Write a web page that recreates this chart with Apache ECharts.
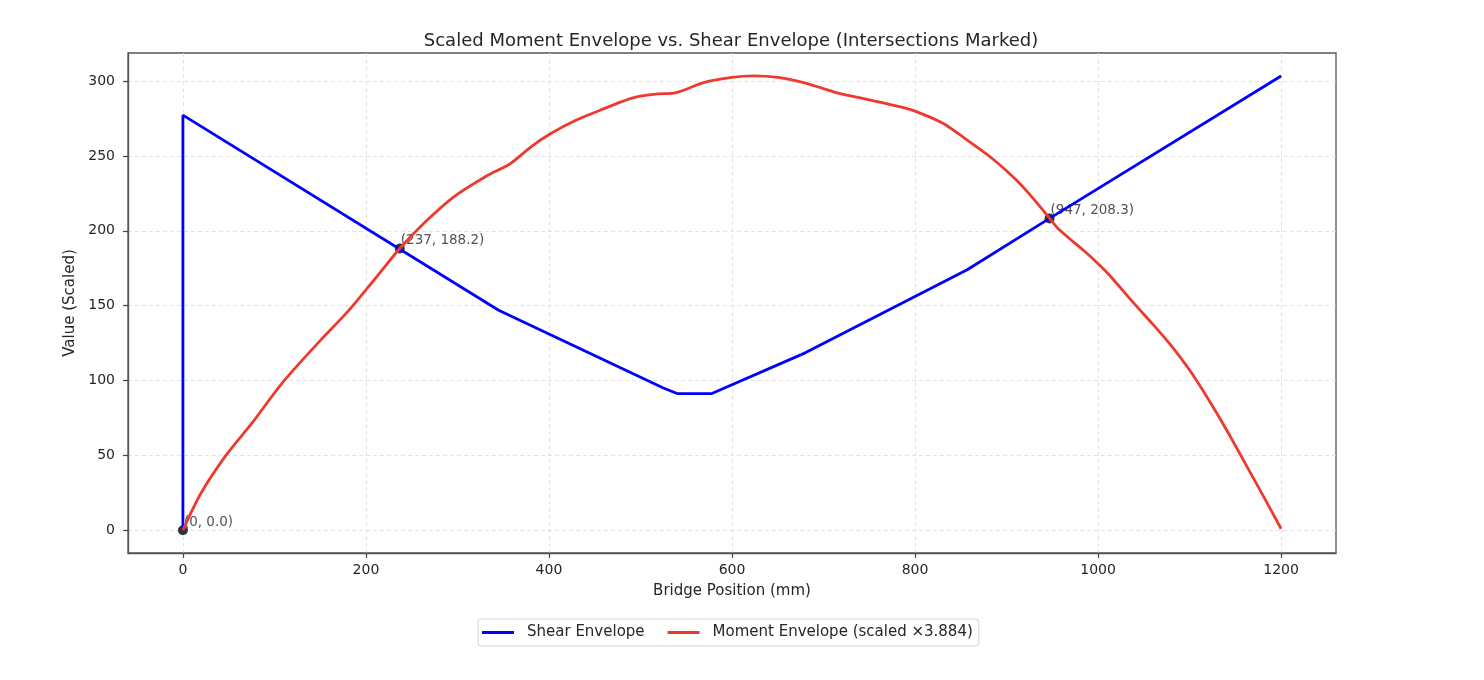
<!DOCTYPE html>
<html>
<head>
<meta charset="utf-8">
<title>Scaled Moment Envelope vs. Shear Envelope</title>
<script src="https://cdn.jsdelivr.net/npm/echarts@6/dist/echarts.min.js"></script>
<style>
    html, body { margin: 0; padding: 0; background: #fff; }
    #chart { width: 1484px; height: 680px; }
</style>
</head>
<body>
<div id="chart"></div>
<script>
// shear envelope
const shearX = [0, 0, 345, 525, 540, 578, 680, 857, 947, 1200];
const shearY = [0, 277.3, 147, 95, 91.3, 91.3, 118.5, 174, 208.3, 303.4];

// moment envelope (already scaled x3.884)
const momentX = [0, 20, 47, 76, 108, 149, 180, 210, 237, 265, 296, 330, 358, 380, 402, 430, 456, 478, 496, 520,
    538, 569, 600, 624, 650, 675, 700, 717, 750, 784, 802, 830, 857, 885, 911, 930, 947, 958, 985, 1000, 1013,
    1040, 1060, 1079, 1100, 1120, 1140, 1160, 1180, 1200];
const momentY = [0, 25, 50, 72, 98, 126, 146, 168, 188.2, 206, 222.7, 236, 245, 256, 265, 274, 280.6, 286, 289.5, 291.5,
    292.2, 299, 302.5, 303.5, 302.5, 299.5, 295, 291.8, 287.5, 282.8, 279.5, 272, 260.6, 248, 233.8, 221, 208.3, 200.5, 186.5, 178, 170,
    151, 137.5, 124, 107, 88, 67.5, 45.5, 23.5, 1];

// intersection points
const crossX = [0, 237, 947];
const crossY = [0.0, 188.2, 208.3];

// tick labels
const xTicks = [0, 200, 400, 600, 800, 1000, 1200];
const yTicks = [0, 50, 100, 150, 200, 250, 300];

const FONT = 'DejaVu Sans';
const TXT = '#262626';

function pairs(xs, ys) {
    return xs.map((x, i) => [x, ys[i]]);
}

const chart = echarts.init(document.getElementById('chart'));

const option = {
    animation: false,
    backgroundColor: '#ffffff',
    title: {
        text: 'Scaled Moment Envelope vs. Shear Envelope (Intersections Marked)',
        left: 726,
        textAlign: 'center',
        top: 27,
        textStyle: { fontFamily: FONT, fontSize: 18, fontWeight: 'normal', color: TXT }
    },
    legend: {
        left: 478,
        top: 619,
        orient: 'horizontal',
        icon: 'rect',
        itemWidth: 32,
        itemHeight: 3,
        itemGap: 23,
        padding: [6, 6, 6, 4],
        borderColor: '#d4d4d4',
        borderWidth: 1,
        borderRadius: 3,
        textStyle: { fontFamily: FONT, fontSize: 15, color: TXT, padding: [0, 0, 0, 8] },
        data: ['Shear Envelope', 'Moment Envelope (scaled \u00d73.884)']
    },
    grid: {
        left: 128,
        right: 148,
        top: 53,
        bottom: 127,
        show: true,
        borderColor: '#555',
        borderWidth: 1.3,
        backgroundColor: 'transparent'
    },
    xAxis: {
        type: 'value',
        min: -60,
        max: 1260,
        name: 'Bridge Position (mm)',
        nameLocation: 'middle',
        nameGap: 31,
        nameTextStyle: { fontFamily: FONT, fontSize: 15, color: TXT },
        axisLine: { show: true, onZero: false, lineStyle: { color: '#555', width: 1.3 } },
        axisTick: { show: true, inside: false, length: 5, customValues: xTicks, lineStyle: { color: '#444', width: 1.2 } },
        axisLabel: {
            customValues: xTicks, margin: 10, fontFamily: FONT, fontSize: 14, color: TXT,
            formatter: v => String(v)
        },
        splitLine: { show: true, lineStyle: { color: '#dcdcdc', type: [4, 3], width: 0.8 } }
    },
    yAxis: {
        type: 'value',
        min: -15.2,
        max: 318.8,
        name: 'Value (Scaled)',
        nameLocation: 'middle',
        nameGap: 43,
        nameTextStyle: { fontFamily: FONT, fontSize: 15, color: TXT },
        axisLine: { show: true, onZero: false, lineStyle: { color: '#555', width: 1.3 } },
        axisTick: { show: true, inside: false, length: 5, customValues: yTicks, lineStyle: { color: '#444', width: 1.2 } },
        axisLabel: {
            customValues: yTicks, margin: 13, fontFamily: FONT, fontSize: 14, color: TXT,
            formatter: v => String(v)
        },
        splitLine: { show: true, lineStyle: { color: '#dcdcdc', type: [4, 3], width: 0.8 } }
    },
    series: [
        {
            name: 'Shear Envelope',
            type: 'line',
            data: pairs(shearX, shearY),
            showSymbol: false,
            symbol: 'none',
            z: 3,
            color: '#0000ff',
            lineStyle: { color: '#0000ff', width: 2.8 }
        },
        {
            name: 'Moment Envelope (scaled \u00d73.884)',
            type: 'line',
            data: pairs(momentX, momentY),
            showSymbol: false,
            symbol: 'none',
            smooth: 0.3,
            z: 4,
            color: '#ee3a2e',
            lineStyle: { color: '#ee3a2e', width: 2.8 }
        },
        {
            name: 'Intersections',
            type: 'scatter',
            data: pairs(crossX, crossY),
            symbol: 'circle',
            symbolSize: 10,
            z: 2,
            itemStyle: { color: '#000' },
            label: {
                show: true,
                position: 'right',
                distance: 0,
                offset: [-4, -8],
                fontFamily: FONT,
                fontSize: 13.5,
                color: TXT,
                formatter: p => '(' + p.value[0] + ', ' + p.value[1].toFixed(1) + ')'
            }
        }
    ]
};

chart.setOption(option);

window.addEventListener('resize', function() {
    chart.resize();
});
</script>
</body>
</html>
